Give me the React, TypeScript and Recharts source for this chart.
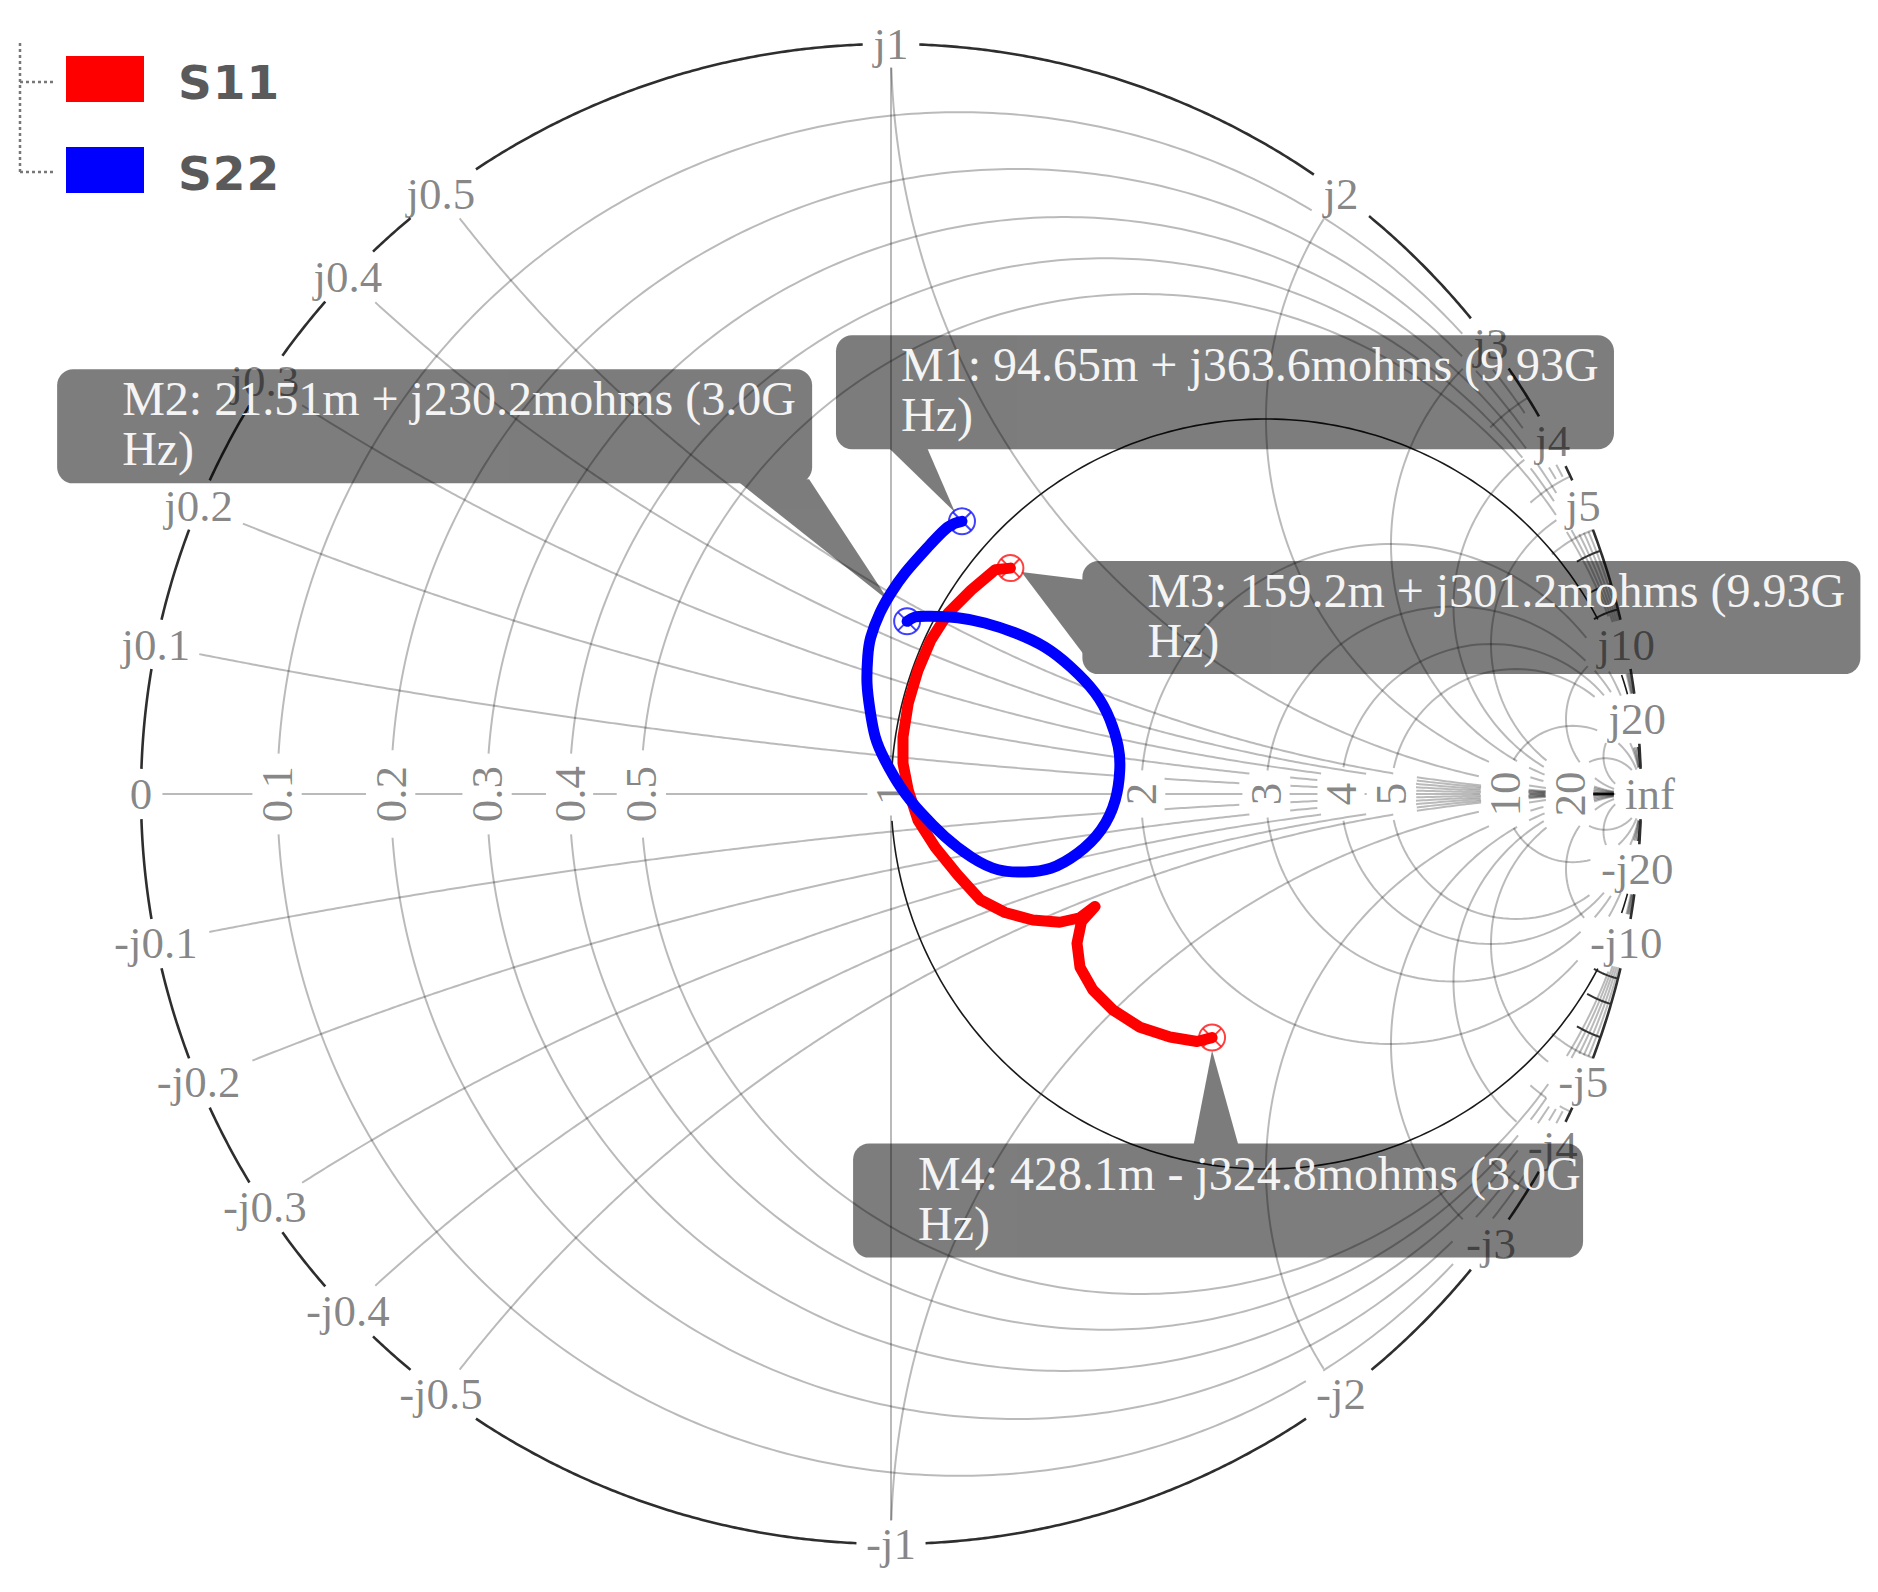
import React from 'react';
import { ScatterChart, Scatter, XAxis, YAxis, Legend } from 'recharts';

// ---------------- data ----------------
const resistanceValues = [0.1, 0.2, 0.3, 0.4, 0.5, 1, 2, 3, 4, 5, 10, 20];
const resistanceLabels = ['0.1', '0.2', '0.3', '0.4', '0.5', '1', '2', '3', '4', '5', '10', '20'];
const reactanceValues = [0.1, 0.2, 0.3, 0.4, 0.5, 1, 2, 3, 4, 5, 10, 20];
const reactanceLabels = ['0.1', '0.2', '0.3', '0.4', '0.5', '1', '2', '3', '4', '5', '10', '20'];
// short minor reactance ticks near the rim
const minorGrayReactance = [3.5, 4.5, 5.5];
const minorDarkReactance = [6, 7, 8, 9];

const seriesNames = ['S11', 'S22'];
const seriesColors = ['#ff0000', '#0000ff'];

// reflection coefficient (re, im)
const s11: [number, number][] = [
  [0.1592, 0.3012], [0.139, 0.299], [0.107, 0.272], [0.076, 0.241], [0.053, 0.205],
  [0.036, 0.165], [0.023, 0.121], [0.016, 0.076], [0.016, 0.041], [0.023, 0.005],
  [0.036, -0.035], [0.059, -0.071], [0.089, -0.108], [0.119, -0.141], [0.152, -0.158],
  [0.189, -0.168], [0.225, -0.171], [0.252, -0.165], [0.272, -0.15], [0.254, -0.17],
  [0.248, -0.199], [0.252, -0.231], [0.269, -0.261], [0.296, -0.288], [0.332, -0.311],
  [0.372, -0.324], [0.408, -0.33], [0.4281, -0.3248],
];
const s22: [number, number][] = [
  [0.0215, 0.2302], [0.032, 0.236], [0.053, 0.237], [0.089, 0.235], [0.125, 0.228],
  [0.165, 0.215], [0.205, 0.196], [0.24, 0.169], [0.272, 0.135], [0.292, 0.099],
  [0.303, 0.063], [0.305, 0.032], [0.299, -0.008], [0.28, -0.048], [0.249, -0.079],
  [0.213, -0.099], [0.179, -0.104], [0.143, -0.101], [0.107, -0.084], [0.072, -0.057],
  [0.04, -0.025], [0.013, 0.009], [-0.008, 0.045], [-0.021, 0.076], [-0.028, 0.112],
  [-0.032, 0.148], [-0.031, 0.183], [-0.027, 0.209], [-0.015, 0.241], [0.0, 0.268],
  [0.019, 0.295], [0.049, 0.329], [0.076, 0.356], [0.09465, 0.3636],
];

const markerNames = ['M1', 'M2', 'M3', 'M4'];
const markerSeries = ['S22', 'S22', 'S11', 'S11'];
const markerRe = [0.09465, 0.02151, 0.1592, 0.4281];
const markerIm = [0.3636, 0.2302, 0.3012, -0.3248];
const markerFreqs = ['9.93G', '3.0G', '9.93G', '3.0G'];

// ---------------- layout ----------------
const W = 1862;
const H = 1576;
const CX = 883;
const CY = 786;
const R = 750;
const X_DOMAIN: [number, number] = [-CX / R, (W - CX) / R];
const Y_DOMAIN: [number, number] = [-(H - CY) / R, CY / R];

const LABEL_FONT = 'Liberation Serif';
const LABEL_SIZE = 45;

const CALLOUTS: Record<string, { dx: number; dy: number; w: number; h: number; ptr: number[][] }> = {
  M1: { dx: -126, dy: -186, w: 778, h: 114, ptr: [[-76, -76], [-36, -76], [-7, -9]] },
  M2: { dx: -850, dy: -252, w: 755, h: 114, ptr: [[-172, -142], [-98, -142], [-18, -20]] },
  M3: { dx: 72, dy: -7, w: 778, h: 113, ptr: [[76, 12], [76, 90], [11, 4]] },
  M4: { dx: -359, dy: 106, w: 730, h: 114, ptr: [[-19, 110], [27, 110], [0, 13]] },
};

// ---------------- geometry helpers (grid) ----------------
type P = { x: number; y: number };
function arc(cx: number, cy: number, rad: number, a0: number, a1: number, n: number): P[] {
  const out: P[] = [];
  for (let i = 0; i <= n; i++) {
    const a = a0 + ((a1 - a0) * i) / n;
    out.push({ x: cx + rad * Math.cos(a), y: cy + rad * Math.sin(a) });
  }
  return out;
}
function seg(a: P, b: P, n: number): P[] {
  const out: P[] = [];
  for (let i = 0; i <= n; i++) out.push({ x: a.x + ((b.x - a.x) * i) / n, y: a.y + ((b.y - a.y) * i) / n });
  return out;
}
function rCircle(r: number): P[] {
  const rad = 1 / (r + 1);
  return arc(r / (r + 1), 0, rad, 0, Math.PI * 2, Math.max(120, Math.round(700 * rad)));
}
function xArcAngles(a: number): [number, number] {
  const start = -Math.PI / 2;
  let end = Math.atan2((a * a - 1) / a, -2);
  if (end > start) end -= Math.PI * 2;
  return [start, end];
}
function xArc(xv: number): P[] {
  const a = Math.abs(xv);
  const s = Math.sign(xv);
  const [start, end] = xArcAngles(a);
  const len = Math.abs(end - start) / a;
  const n = Math.max(80, Math.round(len * 220));
  return arc(1, 1 / a, 1 / a, start, end, n).map((p) => ({ x: p.x, y: s * p.y }));
}
// piece of a reactance arc starting at the rim, running inward for `px` pixels
function xRimPiece(xv: number, px: number): P[] {
  const a = Math.abs(xv);
  const s = Math.sign(xv);
  const [, end] = xArcAngles(a);
  return arc(1, 1 / a, 1 / a, end, end + (px * a) / R, 12).map((p) => ({ x: p.x, y: s * p.y }));
}
function boundary(xv: number): P {
  const d = xv * xv + 1;
  return { x: (xv * xv - 1) / d, y: (2 * xv) / d };
}

// ---------------- labels ----------------
type Label = { x: number; y: number; text: string; rot: boolean };
const labels: Label[] = [];
reactanceValues.forEach((v, i) => {
  const p = boundary(v);
  labels.push({ x: p.x, y: p.y, text: 'j' + reactanceLabels[i], rot: false });
  labels.push({ x: p.x, y: -p.y, text: '-j' + reactanceLabels[i], rot: false });
});
resistanceValues.forEach((r, i) => {
  labels.push({ x: (r - 1) / (r + 1), y: 0, text: resistanceLabels[i], rot: true });
});
labels.push({ x: -1, y: 0, text: '0', rot: false });
labels.push({ x: 1.012, y: 0, text: 'inf', rot: false });

const CHAR_EM: Record<string, number> = { j: 0.278, '-': 0.333, '.': 0.25, i: 0.278, n: 0.5, f: 0.333 };
const emWidth = (t: string) => t.split('').reduce((s, c) => s + (CHAR_EM[c] ?? 0.5), 0);
const gapBoxes = labels.map((l) => {
  const hw = (emWidth(l.text) * LABEL_SIZE) / 2 + 9;
  const hh = LABEL_SIZE * 0.34 + 8;
  const [ax, ay] = l.rot ? [hh, hw] : [hw, hh];
  return { x0: l.x - ax / R, x1: l.x + ax / R, y0: l.y - ay / R, y1: l.y + ay / R };
});
const inGap = (p: P) => gapBoxes.some((b) => p.x > b.x0 && p.x < b.x1 && p.y > b.y0 && p.y < b.y1);
function split(pts: P[]): P[][] {
  const out: P[][] = [];
  let cur: P[] = [];
  for (const p of pts) {
    if (inGap(p)) {
      if (cur.length > 1) out.push(cur);
      cur = [];
    } else cur.push(p);
  }
  if (cur.length > 1) out.push(cur);
  return out;
}

const gridSegs: P[][] = [
  ...resistanceValues.filter((r) => r !== 1).map(rCircle),
  ...[...reactanceValues, ...reactanceValues.map((v) => -v)].map(xArc),
  seg({ x: -1, y: 0 }, { x: 1, y: 0 }, 700),
  seg({ x: 0, y: -1 }, { x: 0, y: 1 }, 700),
].flatMap(split);
const minorGraySegs = [...minorGrayReactance, ...minorGrayReactance.map((v) => -v)]
  .map((v) => xRimPiece(v, 48))
  .flatMap(split);
const minorDarkSegs = [...minorDarkReactance, ...minorDarkReactance.map((v) => -v)]
  .map((v) => xRimPiece(v, 26))
  .flatMap(split);
const unitySegs = split(rCircle(1));
const outerSegs = split(arc(0, 0, 1, 0, Math.PI * 2, 1500));

const toPts = (arr: [number, number][]) => arr.map(([x, y]) => ({ x, y }));
const s11Pts = toPts(s11);
const s22Pts = toPts(s22);
const markerPts = markerNames.map((n, i) => {
  const re = markerRe[i];
  const im = markerIm[i];
  const line1 = `${n}: ${(re * 1000).toPrecision(4)}m ${im < 0 ? '-' : '+'} j${(Math.abs(im) * 1000).toPrecision(4)}mohms (${markerFreqs[i]}`;
  return {
    x: re,
    y: im,
    name: n,
    color: seriesColors[seriesNames.indexOf(markerSeries[i])],
    line1,
    line2: 'Hz)',
  };
});

// ---------------- shapes ----------------
const Empty = () => <g />;

function LabelShape(props: any) {
  const { cx, cy, payload } = props;
  const t = payload.rot ? `rotate(-90 ${cx} ${cy})` : undefined;
  return (
    <text
      x={cx}
      y={cy}
      transform={t}
      textAnchor="middle"
      dominantBaseline="central"
      fontFamily={LABEL_FONT}
      fontSize={LABEL_SIZE}
      fill="#000"
      fillOpacity={0.48}
    >
      {payload.text}
    </text>
  );
}

function CalloutShape(props: any) {
  const { cx, cy, payload } = props;
  const c = CALLOUTS[payload.name];
  const bx = cx + c.dx;
  const by = cy + c.dy;
  const ptr = c.ptr.map(([px, py]) => `${cx + px},${cy + py}`).join(' ');
  return (
    <g>
      <g opacity={0.51}>
        <rect x={bx} y={by} width={c.w} height={c.h} rx={16} ry={16} fill="#000" />
        <polygon points={ptr} fill="#000" />
      </g>
      <text x={bx + 65} y={by + 46} fontFamily={LABEL_FONT} fontSize={48} fill="#f4f4f4">
        {payload.line1}
      </text>
      <text x={bx + 65} y={by + 96} fontFamily={LABEL_FONT} fontSize={48} fill="#f4f4f4">
        {payload.line2}
      </text>
    </g>
  );
}

function MarkerShape(props: any) {
  const { cx, cy, payload } = props;
  const r = 13;
  const d = 9;
  return (
    <g stroke={payload.color} strokeWidth={2} fill="none" strokeOpacity={0.75}>
      <circle cx={cx} cy={cy} r={r} />
      <line x1={cx - d} y1={cy - d} x2={cx + d} y2={cy + d} />
      <line x1={cx - d} y1={cy + d} x2={cx + d} y2={cy - d} />
    </g>
  );
}

function LegendContent() {
  return (
    <svg width={330} height={200}>
      <g stroke="#777" strokeWidth={2.5} strokeDasharray="3 3" fill="none">
        <line x1={12} y1={35} x2={12} y2={164} />
        <line x1={12} y1={74} x2={46} y2={74} />
        <line x1={12} y1={164} x2={46} y2={164} />
      </g>
      {seriesNames.map((n, i) => (
        <g key={n}>
          <rect x={58} y={48 + i * 91} width={78} height={46} fill={seriesColors[i]} />
          <text x={170} y={91 + i * 91} fontFamily="DejaVu Sans" fontWeight="bold" fontSize={47} fill="#5a5a5a" letterSpacing={1}>
            {n}
          </text>
        </g>
      ))}
    </svg>
  );
}

const gridLine = { stroke: '#000', strokeOpacity: 0.27, strokeWidth: 2 };

export default function App() {
  return (
    <ScatterChart width={W} height={H} margin={{ top: 0, right: 0, bottom: 0, left: 0 }}>
      <XAxis type="number" dataKey="x" domain={X_DOMAIN} hide allowDataOverflow />
      <YAxis type="number" dataKey="y" domain={Y_DOMAIN} hide allowDataOverflow />
      <Legend
        layout="horizontal"
        verticalAlign="middle"
        align="center"
        wrapperStyle={{ left: 0, top: 0, width: 330, height: 200 }}
        content={LegendContent}
      />
      {gridSegs.map((pts, i) => (
        <Scatter key={'g' + i} data={pts} line={gridLine} shape={Empty} isAnimationActive={false} legendType="none" />
      ))}
      {minorGraySegs.map((pts, i) => (
        <Scatter key={'mg' + i} data={pts} line={gridLine} shape={Empty} isAnimationActive={false} legendType="none" />
      ))}
      {minorDarkSegs.map((pts, i) => (
        <Scatter
          key={'md' + i}
          data={pts}
          line={{ stroke: '#333', strokeWidth: 2 }}
          shape={Empty}
          isAnimationActive={false}
          legendType="none"
        />
      ))}
      {unitySegs.map((pts, i) => (
        <Scatter
          key={'u' + i}
          data={pts}
          line={{ stroke: '#1a1a1a', strokeWidth: 1.6 }}
          shape={Empty}
          isAnimationActive={false}
          legendType="none"
        />
      ))}
      {outerSegs.map((pts, i) => (
        <Scatter
          key={'o' + i}
          data={pts}
          line={{ stroke: '#2e2e2e', strokeWidth: 2.6 }}
          shape={Empty}
          isAnimationActive={false}
          legendType="none"
        />
      ))}
      <Scatter data={labels} shape={LabelShape} isAnimationActive={false} legendType="none" />
      <Scatter data={markerPts} shape={CalloutShape} isAnimationActive={false} legendType="none" />
      <Scatter
        name="S11"
        data={s11Pts}
        fill={seriesColors[0]}
        line={{ stroke: seriesColors[0], strokeWidth: 11, strokeLinejoin: 'round', strokeLinecap: 'round' }}
        shape={Empty}
        isAnimationActive={false}
      />
      <Scatter
        name="S22"
        data={s22Pts}
        fill={seriesColors[1]}
        lineJointType="natural"
        line={{ stroke: seriesColors[1], strokeWidth: 11, strokeLinejoin: 'round', strokeLinecap: 'round' }}
        shape={Empty}
        isAnimationActive={false}
      />
      <Scatter data={markerPts} shape={MarkerShape} isAnimationActive={false} legendType="none" />
    </ScatterChart>
  );
}
